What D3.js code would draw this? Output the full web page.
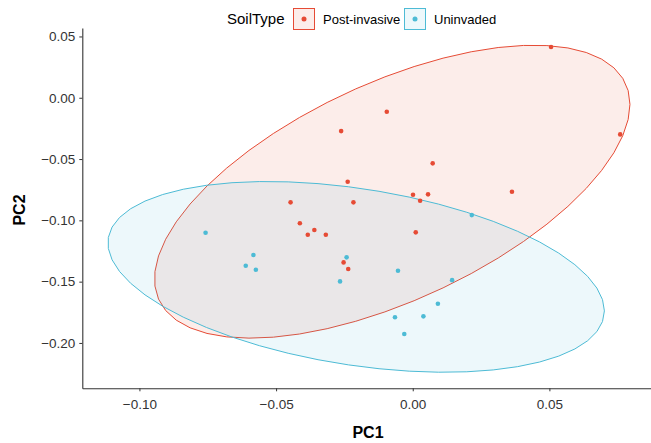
<!DOCTYPE html>
<html>
<head>
<meta charset="utf-8">
<script src="https://cdn.jsdelivr.net/npm/d3@7"></script>
<style>
  body { margin: 0; background: #fff; }
  svg { display: block; font-family: "Liberation Sans", Arial, sans-serif; }
</style>
</head>
<body>
<svg id="chart" width="651" height="443"></svg>
<script>
// PCA scores
const postPC1 = [0.0506, 0.0759, -0.0095, -0.0262, 0.0073, -0.0238, 0.0363, 0.0001, 0.0056, 0.0027,
  -0.0217, -0.0447, -0.0413, -0.0360, -0.0384, -0.0318, 0.0011, -0.0253, -0.0236]
const postPC2 = [0.0414, -0.0299, -0.0114, -0.0272, -0.0535, -0.0685, -0.0767, -0.0791, -0.0788, -0.0840,
  -0.0853, -0.0853, -0.1024, -0.1079, -0.1117, -0.1117, -0.1098, -0.1343, -0.1397]

const uninPC1 = [-0.0758, -0.0583, -0.0611, -0.0574, -0.0242, -0.0266, 0.0216, -0.0054, 0.0144, 0.0092,
  -0.0065, 0.0039, -0.0031]
const uninPC2 = [-0.1101, -0.1283, -0.1370, -0.1403, -0.1302, -0.1498, -0.0957, -0.1411, -0.1488, -0.1680,
  -0.1791, -0.1783, -0.1927]

const soilTypes = ['Post-invasive', 'Uninvaded']
const soilColors = ['#E64B35', '#4DBBD5']

const xTicks = [-0.10, -0.05, 0.00, 0.05]
const yTicks = [0.05, 0.00, -0.05, -0.10, -0.15, -0.20]

const groups = [
  { name: soilTypes[0], color: soilColors[0], pts: postPC1.map((x, i) => [x, postPC2[i]]) },
  { name: soilTypes[1], color: soilColors[1], pts: uninPC1.map((x, i) => [x, uninPC2[i]]) }
]

const svg = d3.select('#chart')

const x = d3.scaleLinear().domain([-0.1209, 0.0890]).range([82.3, 656])
const y = d3.scaleLinear().domain([-0.2370, 0.0569]).range([388.3, 28])

// 95% normal ellipse, like stat_ellipse(type = 'norm')
const ellipse = (pts, level = 0.95, segments = 51) => {
  const n = pts.length
  const cx = d3.mean(pts, d => d[0])
  const cy = d3.mean(pts, d => d[1])
  const s11 = d3.sum(pts, d => (d[0] - cx) ** 2) / (n - 1)
  const s12 = d3.sum(pts, d => (d[0] - cx) * (d[1] - cy)) / (n - 1)
  const s22 = d3.sum(pts, d => (d[1] - cy) ** 2) / (n - 1)
  const m = n - 1
  const qf = (m / 2) * (Math.pow(1 - level, -2 / m) - 1) // F(2, m) quantile
  const r = Math.sqrt(2 * qf)
  // cholesky factor of the covariance
  const a = Math.sqrt(s11)
  const b = s12 / a
  const c = Math.sqrt(s22 - b * b)
  return d3.range(segments + 1).map(k => {
    const t = k * 2 * Math.PI / segments
    return [cx + r * a * Math.cos(t), cy + r * (b * Math.cos(t) + c * Math.sin(t))]
  })
}

const line = d3.line().x(d => x(d[0])).y(d => y(d[1]))

svg.append('g').selectAll('path')
  .data(groups)
  .join('path')
  .attr('d', g => line(ellipse(g.pts)) + 'Z')
  .attr('fill', g => g.color)
  .attr('fill-opacity', 0.1)
  .attr('stroke', g => g.color)
  .attr('stroke-width', 1)

groups.forEach(g => {
  svg.append('g').selectAll('circle')
    .data(g.pts)
    .join('circle')
    .attr('cx', d => x(d[0]))
    .attr('cy', d => y(d[1]))
    .attr('r', 2.3)
    .attr('fill', g.color)
})

// axes
const fmt = d3.format('.2f')
const xAxis = svg.append('g')
  .attr('transform', 'translate(0,388.3)')
  .call(d3.axisBottom(x).tickValues(xTicks).tickFormat(fmt).tickSize(3).tickSizeOuter(0).tickPadding(8))
const yAxis = svg.append('g')
  .attr('transform', 'translate(82.3,0)')
  .call(d3.axisLeft(y).tickValues(yTicks).tickFormat(fmt).tickSize(3).tickSizeOuter(0).tickPadding(4))

;[xAxis, yAxis].forEach(ax => {
  ax.select('.domain').attr('stroke', '#333').attr('stroke-width', 1.1)
  ax.selectAll('.tick line').attr('stroke', '#333')
  ax.selectAll('.tick text').attr('fill', '#333').style('font-size', '13.5px')
    .style('font-family', '"Liberation Sans", Arial, sans-serif')
})

svg.append('text')
  .attr('x', 368).attr('y', 438)
  .attr('text-anchor', 'middle')
  .style('font-size', '16px').style('font-weight', 'bold')
  .text('PC1')

svg.append('text')
  .attr('transform', 'translate(25,210) rotate(-90)')
  .attr('text-anchor', 'middle')
  .style('font-size', '16px').style('font-weight', 'bold')
  .text('PC2')

// legend
const legend = svg.append('g')
legend.append('text')
  .attr('x', 227).attr('y', 24)
  .style('font-size', '15px')
  .text('SoilType')

const keyX = [293, 404]
groups.forEach((g, i) => {
  const k = legend.append('g').attr('transform', `translate(${keyX[i]},8)`)
  k.append('rect')
    .attr('x', 0.5).attr('y', 0.5)
    .attr('width', 21).attr('height', 21)
    .attr('fill', g.color).attr('fill-opacity', 0.1)
    .attr('stroke', g.color).attr('stroke-width', 1)
  k.append('circle')
    .attr('cx', 11).attr('cy', 11).attr('r', 2.5)
    .attr('fill', g.color)
  k.append('text')
    .attr('x', 30).attr('y', 16)
    .style('font-size', '13px')
    .text(g.name)
})
</script>
</body>
</html>
